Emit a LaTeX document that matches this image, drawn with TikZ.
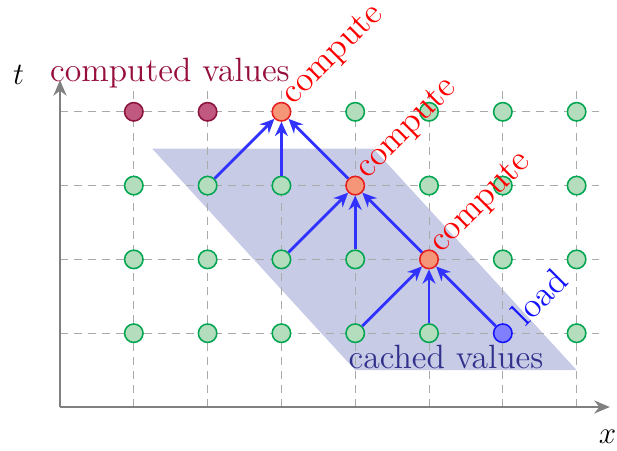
\documentclass[tikz,border=0pt]{standalone}
\usetikzlibrary{arrows.meta}
\definecolor{gfill}{RGB}{180,221,190}
\definecolor{gdraw}{RGB}{0,166,80}
\definecolor{pfill}{RGB}{192,88,128}
\definecolor{pdraw}{RGB}{140,20,60}
\definecolor{rfill}{RGB}{245,150,120}
\definecolor{rdraw}{RGB}{230,30,30}
\definecolor{bfill}{RGB}{128,128,255}
\definecolor{bdraw}{RGB}{20,20,255}
\definecolor{shadec}{RGB}{200,203,230}
\definecolor{cachedc}{RGB}{50,50,140}
\definecolor{compvc}{RGB}{150,15,60}
\definecolor{arrc}{RGB}{50,50,255}
\definecolor{axisc}{RGB}{128,128,128}
\definecolor{gridc}{RGB}{170,170,170}
\begin{document}
\begin{tikzpicture}[x=1cm,y=1cm,
  dot/.style={circle,minimum size=0.25cm,inner sep=0pt,line width=0.6pt},
  gnode/.style={dot,draw=gdraw,fill=gfill},
  pnode/.style={dot,draw=pdraw,fill=pfill},
  rnode/.style={dot,draw=rdraw,fill=rfill},
  bnode/.style={dot,draw=bdraw,fill=bfill},
  dep/.style={draw=arrc,line width=1.1pt,-{Stealth[length=5.5pt,width=5pt]}},
  axisline/.style={draw=axisc,line width=1.1pt,-{Stealth[length=6pt,width=5pt]}},
  gridline/.style={draw=gridc,line width=0.4pt,dash pattern=on 3pt off 2.4pt},
  big/.style={font=\fontsize{13}{15}\selectfont},
  rotlabel/.style={font=\fontsize{13.5}{15}\selectfont,rotate=45,anchor=base west,inner sep=0pt}
]
\useasboundingbox (-0.813,-0.596) rectangle (7.547,5.515);
% shaded region
\fill[shadec] (1.25,3.5) -- (4.25,3.5) -- (7,0.5) -- (4,0.5) -- cycle;
% grid
\foreach \x in {1,...,7}{\draw[gridline] (\x,0) -- (\x,4.3);}
\foreach \t in {1,...,4}{\draw[gridline] (0,\t) -- (7.3,\t);}
% axes
\coordinate (o) at (0,0);
\coordinate (xe) at (7.45,0);
\coordinate (te) at (0,4.43);
\draw[axisline] (o) -- (xe);
\draw[axisline] (o) -- (te);
\node[big] (tl) at (-0.56,4.5) {$t$};
\node[big] (xl) at (7.42,-0.41) {$x$};
% nodes
\foreach \x in {1,...,7}{
  \foreach \t in {1,...,4}{
    \pgfmathtruncatemacro\k{\x*10+\t}
    \def\st{gnode}
    \ifnum\k=14 \def\st{pnode}\fi
    \ifnum\k=24 \def\st{pnode}\fi
    \ifnum\k=34 \def\st{rnode}\fi
    \ifnum\k=43 \def\st{rnode}\fi
    \ifnum\k=52 \def\st{rnode}\fi
    \ifnum\k=61 \def\st{bnode}\fi
    \node[\st] (n\x\t) at (\x,\t) {};
  }
}
% arrows
\draw[dep] (n23) -- (n34);
\draw[dep] (n33) -- (n34);
\draw[dep] (n43) -- (n34);
\draw[dep] (n32) -- (n43);
\draw[dep] (n42) -- (n43);
\draw[dep] (n52) -- (n43);
\draw[dep] (n41) -- (n52);
\draw[dep] (n51) -- (n52);
\draw[dep] (n61) -- (n52);
% labels
\node[rotlabel,text=red] (c1) at ([shift={(0.16,0.08)}]n34.center) {compute};
\node[rotlabel,text=red] (c2) at ([shift={(0.16,0.08)}]n43.center) {compute};
\node[rotlabel,text=red] (c3) at ([shift={(0.16,0.08)}]n52.center) {compute};
\node[rotlabel,text=bdraw] (ld) at ([shift={(0.3,0.07)}]n61.center) {load};
\node[big,text=compvc] (cv) at (1.49,4.53) {computed values};
\node[big,text=cachedc] (cav) at (5.23,0.68) {cached values};
\end{tikzpicture}
\end{document}
